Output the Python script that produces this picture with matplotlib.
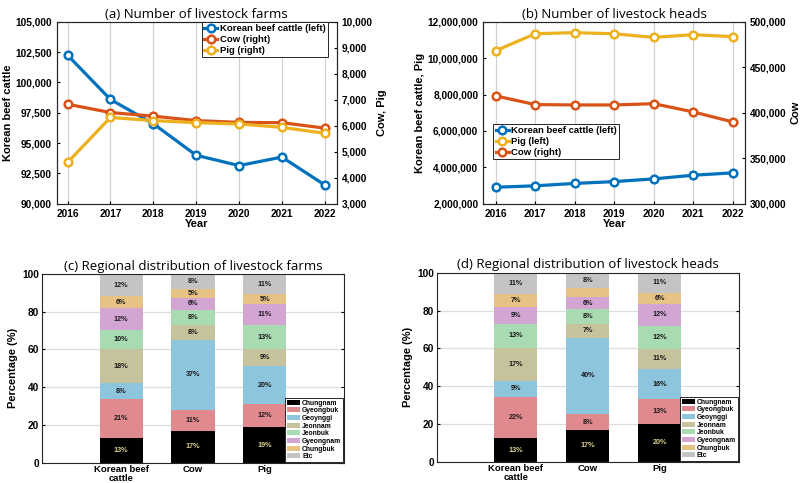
import numpy as np
import matplotlib.pyplot as plt
from matplotlib.patches import Patch

# 数据
years = [2016, 2017, 2018, 2019, 2020, 2021, 2022]

# (a) 农场数
farms_hanwoo = [102250, 98600, 96600, 94000, 93150, 93850, 91550]
farms_cow = [6830, 6510, 6370, 6200, 6130, 6120, 5910]
farms_pig = [4590, 6320, 6200, 6120, 6070, 5940, 5710]

# (b) 饲养头数
heads_hanwoo = [2910000, 2990000, 3120000, 3220000, 3370000, 3570000, 3700000]
heads_pig = [10410000, 11340000, 11400000, 11340000, 11140000, 11290000, 11180000]
heads_cow = [418500, 409000, 408600, 408600, 410000, 401000, 390000]

# (c)(d) 地区分布
animals = ['Korean beef\ncattle', 'Cow', 'Pig']
regions = ['Chungnam', 'Gyeongbuk', 'Geoynggi', 'Jeonnam', 'Jeonbuk',
           'Gyeongnam', 'Chungbuk', 'Etc']
region_colors = ['#000000', '#E08A8F', '#8DC4DE', '#C6C29C', '#A8DBB2',
                 '#D3A5D3', '#E6C285', '#C4C4C4']
# 每行: 一个地区, 三列: Korean beef cattle, Cow, Pig
farm_share = np.array([
    [13, 17, 19],
    [21, 11, 12],
    [8, 37, 20],
    [18, 8, 9],
    [10, 8, 13],
    [12, 6, 11],
    [6, 5, 5],
    [12, 8, 11],
], dtype=float)
head_share = np.array([
    [12.6, 16.9, 20.2],
    [21.7, 8.4, 12.9],
    [8.7, 40.4, 16.0],
    [17.1, 7.1, 10.8],
    [13.0, 7.9, 12.1],
    [8.8, 6.4, 11.6],
    [7.0, 4.8, 5.8],
    [11.1, 8.1, 10.6],
])

c_blue = '#0072BD'
c_red = '#D95319'
c_yel = '#EDB120'

plt.rcParams['font.family'] = ['Liberation Sans', 'DejaVu Sans']
plt.rcParams['font.weight'] = 'bold'
plt.rcParams['axes.labelweight'] = 'bold'
plt.rcParams['axes.edgecolor'] = '#262626'
plt.rcParams['axes.linewidth'] = 0.8
plt.rcParams['xtick.direction'] = 'in'
plt.rcParams['ytick.direction'] = 'in'
plt.rcParams['xtick.major.size'] = 2.5
plt.rcParams['ytick.major.size'] = 2.5
plt.rcParams['xtick.labelsize'] = 7.3
plt.rcParams['ytick.labelsize'] = 7.3

title_font = dict(family=['Open Sans', 'DejaVu Sans'], fontsize=9.5, fontweight='normal')
line_kw = dict(linewidth=2.3, marker='o', markersize=5.5, markerfacecolor='white',
               markeredgewidth=1.8)
leg_kw = dict(fontsize=6.8, handlelength=1.4, borderpad=0.25, labelspacing=0.2,
              handletextpad=0.25, fancybox=False, framealpha=1, edgecolor='#262626',
              borderaxespad=0)

fig = plt.figure(figsize=(8, 4.83), dpi=100)


def comma(x, pos=None):
    return f'{int(round(x)):,}'


# (a) 农场数折线图
ax1 = fig.add_axes([0.071, 0.578, 0.35, 0.377])
ax1.grid(axis='x', color='#D0D0D0', linewidth=0.9)
ax1.set_axisbelow(True)
ax1b = ax1.twinx()
l1, = ax1.plot(years, farms_hanwoo, color=c_blue, label='Korean beef cattle (left)', **line_kw)
l2, = ax1b.plot(years, farms_cow, color=c_red, label='Cow (right)', **line_kw)
l3, = ax1b.plot(years, farms_pig, color=c_yel, label='Pig (right)', **line_kw)
ax1.set_xlim(2015.75, 2022.28)
ax1.set_ylim(90000, 105000)
ax1.set_yticks(np.arange(90000, 105001, 2500))
ax1.yaxis.set_major_formatter(comma)
ax1b.set_ylim(3000, 10000)
ax1b.set_yticks(np.arange(3000, 10001, 1000))
ax1b.yaxis.set_major_formatter(comma)
ax1.set_xticks(years)
ax1.set_xlabel('Year', fontsize=8, labelpad=0)
ax1.set_ylabel('Korean beef cattle', fontsize=8, labelpad=2)
ax1b.set_ylabel('Cow, Pig', fontsize=8, labelpad=3)
ax1.set_title('(a) Number of livestock farms', pad=3, **title_font)
leg = ax1b.legend(handles=[l1, l2, l3], loc='upper right', bbox_to_anchor=(0.968, 1.0),
                  **leg_kw)
leg.get_frame().set_linewidth(0.7)

# (b) 饲养头数折线图
ax2 = fig.add_axes([0.604, 0.578, 0.3275, 0.377])
ax2.grid(axis='x', color='#D0D0D0', linewidth=0.9)
ax2.set_axisbelow(True)
ax2b = ax2.twinx()
m1, = ax2.plot(years, heads_hanwoo, color=c_blue, label='Korean beef cattle (left)', **line_kw)
m2, = ax2.plot(years, heads_pig, color=c_yel, label='Pig (left)', **line_kw)
m3, = ax2b.plot(years, heads_cow, color=c_red, label='Cow (right)', **line_kw)
ax2.set_xlim(2015.68, 2022.32)
ax2.set_ylim(2000000, 12000000)
ax2.set_yticks(np.arange(2000000, 12000001, 2000000))
ax2.yaxis.set_major_formatter(comma)
ax2b.set_ylim(300000, 500000)
ax2b.set_yticks(np.arange(300000, 500001, 50000))
ax2b.yaxis.set_major_formatter(comma)
ax2.set_xticks(years)
ax2.set_xlabel('Year', fontsize=8, labelpad=0)
ax2.set_ylabel('Korean beef cattle, Pig', fontsize=8, labelpad=2)
ax2b.set_ylabel('Cow', fontsize=8, labelpad=3)
ax2.set_title('(b) Number of livestock heads', pad=3, **title_font)
leg = ax2b.legend(handles=[m1, m2, m3], loc='upper left', bbox_to_anchor=(0.038, 0.44),
                  **leg_kw)
leg.get_frame().set_linewidth(0.7)


def stacked(ax, share, title):
    x = np.arange(1, len(animals) + 1)
    bottom = np.zeros(len(animals))
    for i, reg in enumerate(regions):
        ax.bar(x, share[i], 0.6, bottom=bottom, color=region_colors[i], label=reg, zorder=2)
        for j in range(len(animals)):
            v = share[i, j]
            if v >= 5:
                tc = '#D8CF8A' if i == 0 else '#1A1A1A'
                ax.text(x[j], bottom[j] + v / 2, f'{v:.0f}%', ha='center', va='center',
                        fontsize=5.2, fontweight='bold', color=tc, zorder=3)
        bottom += share[i]
    ax.set_xlim(-0.1, 4.1)
    ax.set_ylim(0, 100)
    ax.set_yticks(np.arange(0, 101, 20))
    ax.set_xticks(x)
    ax.set_xticklabels(animals, fontsize=6.8, linespacing=0.95)
    ax.tick_params(axis='x', top=True, pad=1.5)
    ax.tick_params(axis='y', right=True, pad=2)
    ax.grid(axis='y', color='#DDDDDD', linewidth=0.9)
    ax.set_axisbelow(True)
    ax.set_ylabel('Percentage (%)', fontsize=8, labelpad=3)
    ax.set_title(title, pad=3, **title_font)
    hs = [Patch(facecolor=c, edgecolor='none') for c in region_colors]
    lg = ax.legend(hs, regions, loc='lower right', fontsize=4.9, handlelength=1.9,
                   handleheight=0.75, borderpad=0.25, labelspacing=0.1, handletextpad=0.3,
                   fancybox=False, framealpha=1, edgecolor='#262626', borderaxespad=0.15)
    lg.get_frame().set_linewidth(0.7)


ax3 = fig.add_axes([0.0525, 0.0414, 0.3775, 0.392])
stacked(ax3, farm_share, '(c) Regional distribution of livestock farms')

ax4 = fig.add_axes([0.546, 0.0435, 0.3775, 0.392])
stacked(ax4, head_share, '(d) Regional distribution of livestock heads')

fig.savefig('out.png', dpi=100)
